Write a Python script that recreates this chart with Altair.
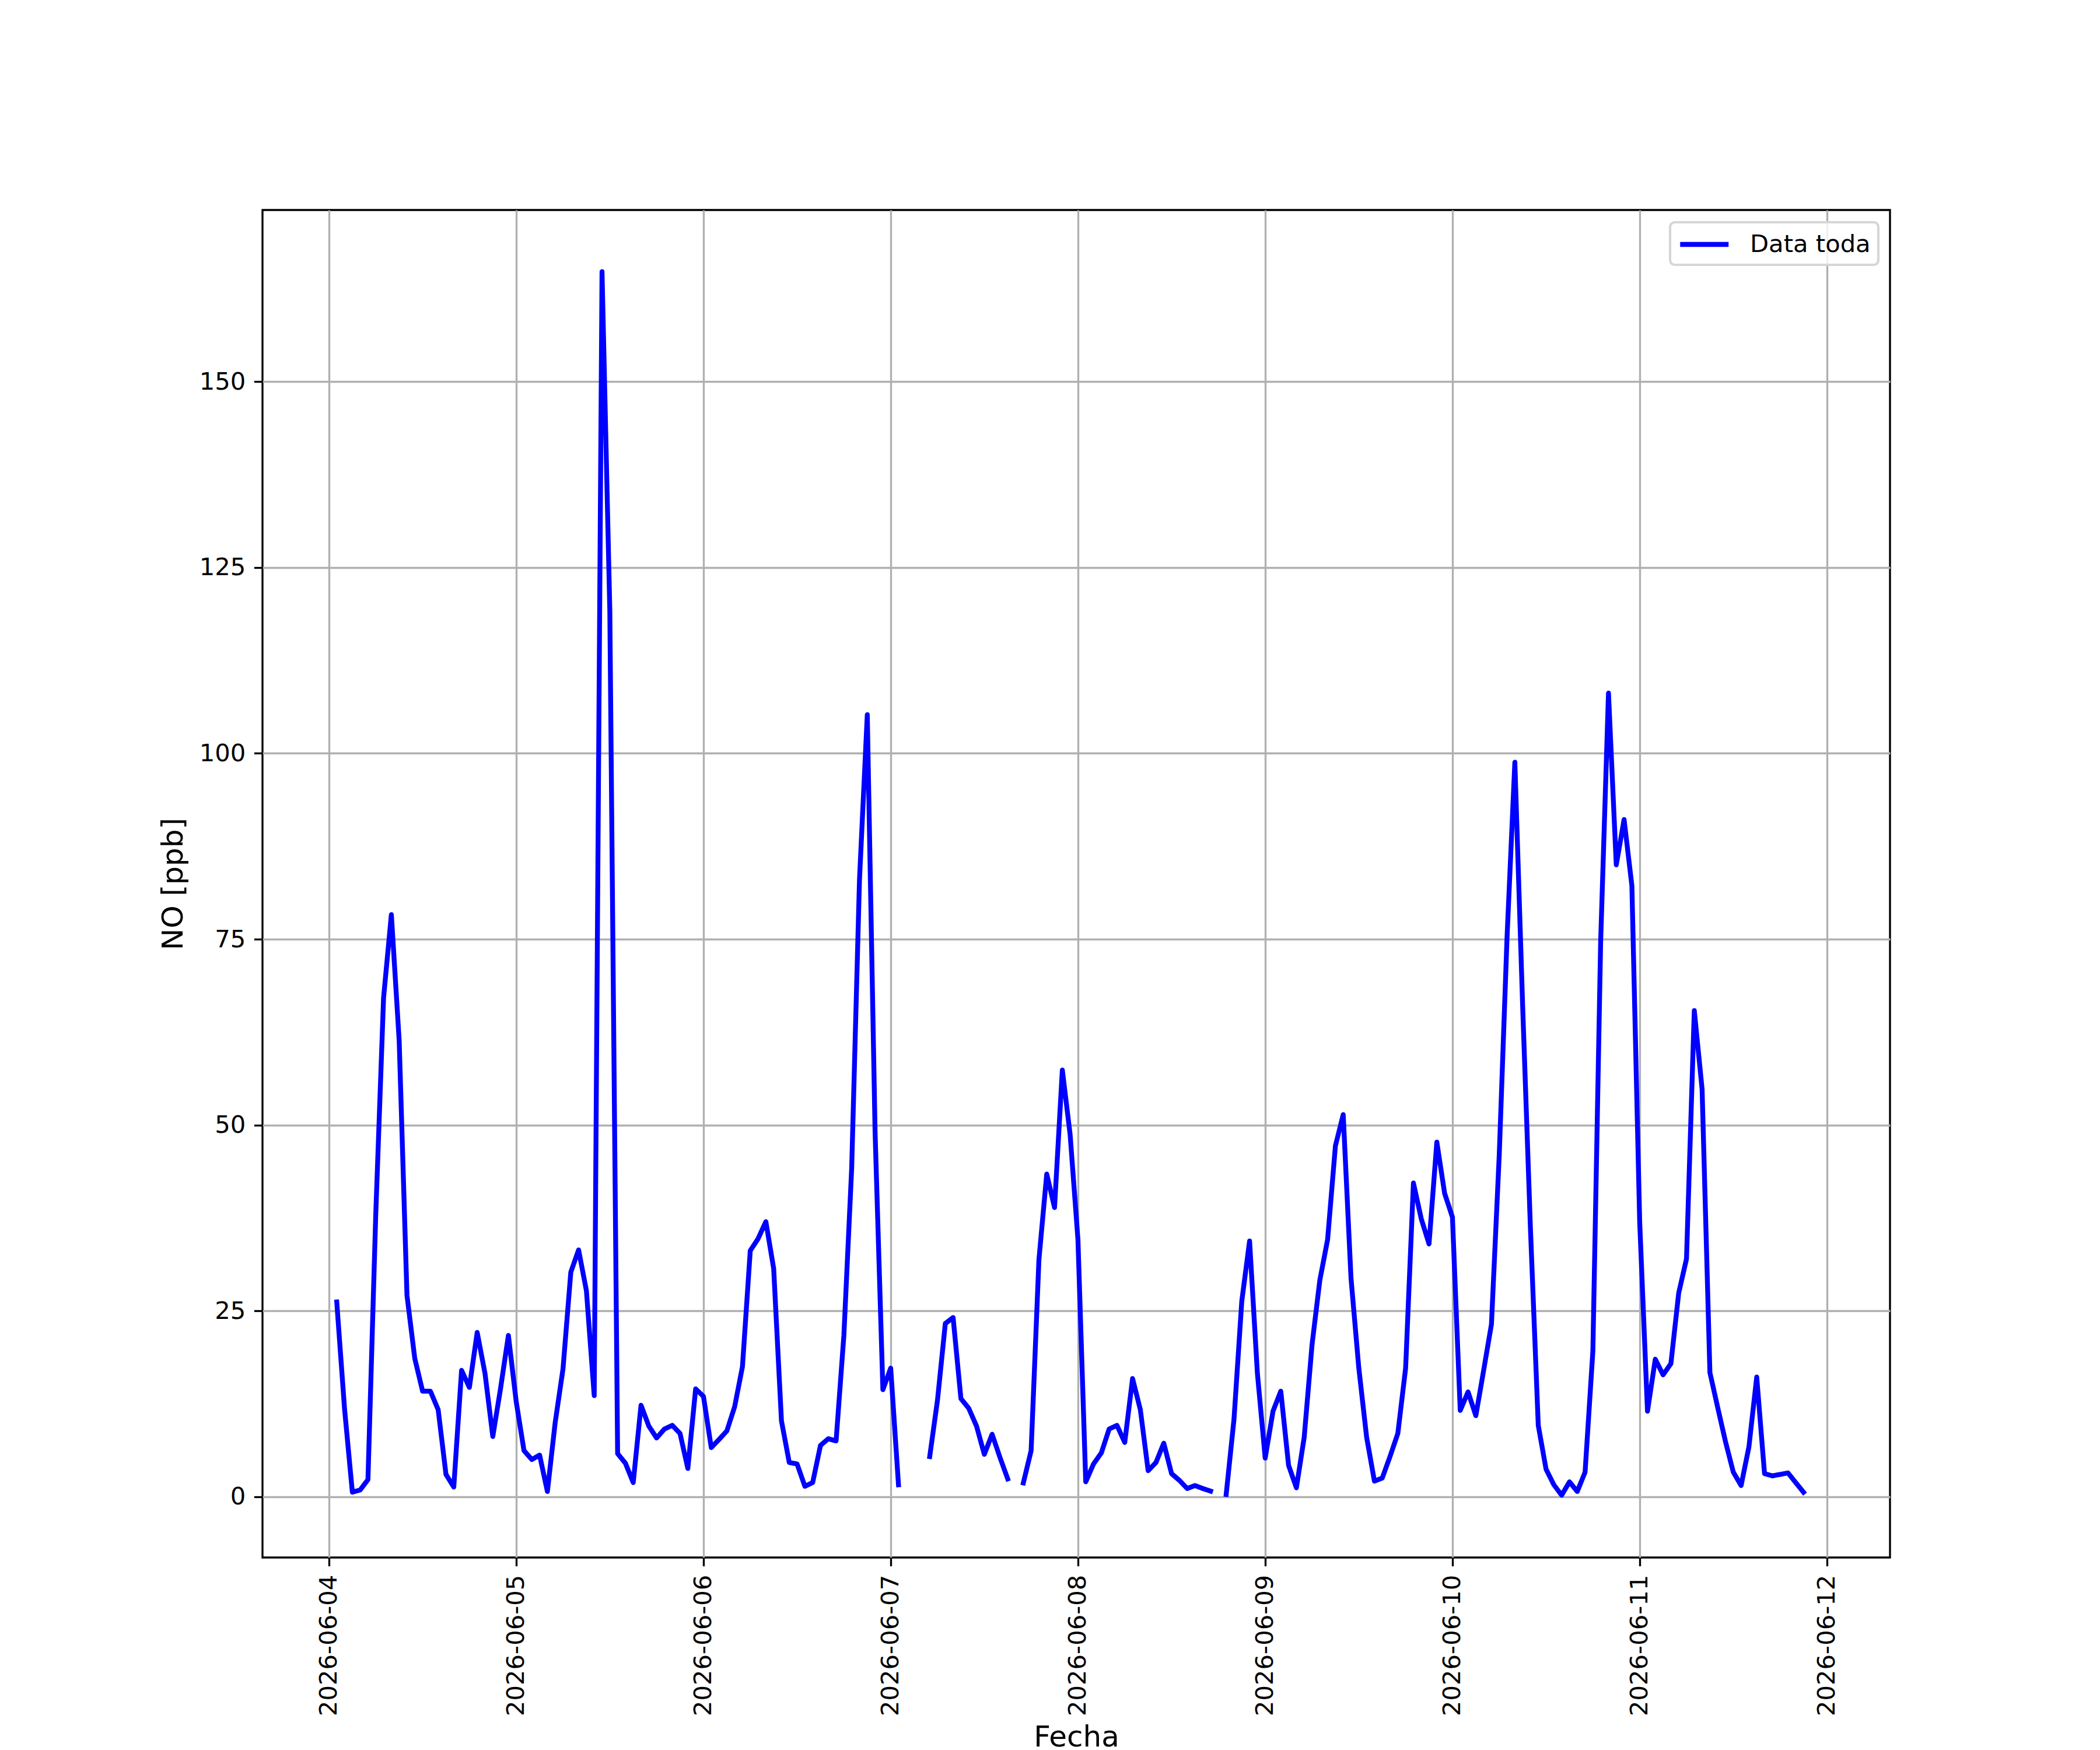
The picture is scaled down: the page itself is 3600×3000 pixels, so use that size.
import altair as alt
import pandas as pd

# Hourly NO readings starting 2026-06-04 01:00 (None = missing hour)
start_time = "2026-06-04 01:00"
no_ppb = [
    26.2, 11.8, 0.6, 0.9, 2.3, 38.0, 67.1, 78.3, 61.4, 27.1,
    18.6, 14.2, 14.2, 11.7, 3.0, 1.3, 17.0, 14.7, 22.1, 16.6,
    8.1, 14.6, 21.7, 12.8, 6.2, 5.0, 5.6, 0.7, 10.0, 17.2,
    30.2, 33.2, 27.7, 13.6, 164.8, 119.2, 5.8, 4.5, 1.9, 12.3,
    9.5, 7.9, 9.1, 9.6, 8.5, 3.8, 14.5, 13.5, 6.6, 7.7,
    8.85, 12.1, 17.5, 33.1, 34.7, 37.0, 30.7, 10.2, 4.6, 4.4,
    1.4, 1.9, 6.9, 7.8, 7.5, 21.7, 44.2, 83.0, 105.2, 49.0,
    14.4, 17.3, 1.6, None, None, None, 5.4, 13.0, 23.3, 24.1,
    13.2, 11.9, 9.5, 5.7, 8.4, 5.3, 2.4, None, 1.85, 6.2,
    31.9, 43.4, 38.9, 57.4, 48.7, 34.6, 2.0, 4.4, 5.9, 9.1,
    9.6, 7.3, 15.9, 11.7, 3.5, 4.6, 7.2, 3.1, 2.2, 1.1,
    1.5, 1.1, 0.75, None, 0.3, 10.4, 26.3, 34.4, 16.6, 5.2,
    11.5, 14.2, 4.2, 1.2, 8.0, 20.4, 29.1, 34.6, 47.2, 51.4,
    29.4, 17.3, 8.0, 2.1, 2.5, 5.4, 8.5, 17.3, 42.2, 37.4,
    34.0, 47.7, 40.8, 37.6, 11.6, 14.1, 10.9, 17.0, 23.2, 46.0,
    75.3, 98.8, 66.0, 36.0, 9.6, 3.7, 1.6, 0.2, 2.0, 0.7,
    3.3, 19.6, 74.8, 108.1, 85.0, 91.1, 82.2, 37.0, 11.5, 18.5,
    16.4, 17.9, 27.4, 32.0, 65.4, 54.8, 16.7, 12.0, 7.4, 3.3,
    1.5, 6.7, 16.1, 3.1, 2.8, 3.0, 3.2, 1.9, 0.6,
]
series_name = "Data toda"
tick_days = ["2026-06-04", "2026-06-05", "2026-06-06", "2026-06-07", "2026-06-08",
             "2026-06-09", "2026-06-10", "2026-06-11", "2026-06-12"]
y_ticks = [0, 25, 50, 75, 100, 125, 150]

times = pd.date_range(start_time, periods=len(no_ppb), freq="h")
rows = []
seg = 0
for t, v in zip(times, no_ppb):
    if v is None:
        seg += 1
        continue
    rows.append({"fecha": t.strftime("%Y-%m-%dT%H:%M:%S"), "no": v, "seg": seg, "serie": series_name})
df = pd.DataFrame(rows)


def dt(s, h=0, m=0):
    y, mo, d = (int(p) for p in s.split("-"))
    return alt.DateTime(year=y, month=mo, date=d, hours=h, minutes=m)


x_values = [dt(s) for s in tick_days]

FONT = "DejaVu Sans"
TICK_FS = 41.7
LABEL_FS = 50
LW = 3.33

chart = alt.Chart(df).mark_line(
    strokeWidth=8.33, strokeJoin="round", strokeCap="square"
).encode(
    x=alt.X(
        "fecha:T",
        scale=alt.Scale(domain=[dt("2026-06-03", 15, 29), dt("2026-06-12", 8, 5)], nice=False),
        axis=alt.Axis(
            values=x_values, format="%Y-%m-%d", labelAngle=270,
            title="Fecha", titleFontSize=LABEL_FS, titleFontWeight="normal",
            titleX=1395, titleY=323, titleBaseline="alphabetic", titleAlign="center",
            labelFontSize=TICK_FS, labelPadding=14.6, tickSize=14.6, tickWidth=LW,
            tickColor="black", labelColor="black", titleColor="black",
            gridColor="#b0b0b0", gridWidth=LW, domain=False, labelFlush=False,
            labelOverlap=False, labelLimit=0,
        ),
    ),
    y=alt.Y(
        "no:Q",
        scale=alt.Scale(domain=[-8.18, 173.1], nice=False, zero=False),
        axis=alt.Axis(
            values=y_ticks, title="NO [ppb]", titleFontSize=LABEL_FS, titleFontWeight="normal",
            titleAngle=270, titleX=-138, titleY=1155, titleBaseline="alphabetic",
            titleAlign="center",
            labelFontSize=TICK_FS, labelPadding=14.6, tickSize=14.6, tickWidth=LW,
            tickColor="black", labelColor="black", titleColor="black",
            gridColor="#b0b0b0", gridWidth=LW, domain=False, labelFlush=False,
            labelOverlap=False, labelLimit=0,
        ),
    ),
    detail="seg:N",
    color=alt.Color(
        "serie:N",
        scale=alt.Scale(range=["#0000ff"]),
        legend=alt.Legend(
            title=None, orient="none", legendX=2413, legendY=21,
            symbolType="M-1,0L3,0", symbolSize=1722, symbolStrokeWidth=8.33,
            labelFontSize=TICK_FS, labelOffset=74, labelColor="black", labelLimit=0,
            padding=13, strokeColor="#d6d6d6", fillColor="rgba(255,255,255,0.8)",
            cornerRadius=8,
        ),
    ),
).properties(
    width=2790,
    height=2310,
    autosize=alt.AutoSizeParams(type="none"),
    padding={"left": 442, "top": 352, "right": 352, "bottom": 330},
).configure(
    font=FONT,
).configure_view(
    stroke="black", strokeWidth=LW,
).configure_legend(
    strokeWidth=4.2,
)

chart.save("out.html", embed_options={"renderer": "svg", "actions": False})
